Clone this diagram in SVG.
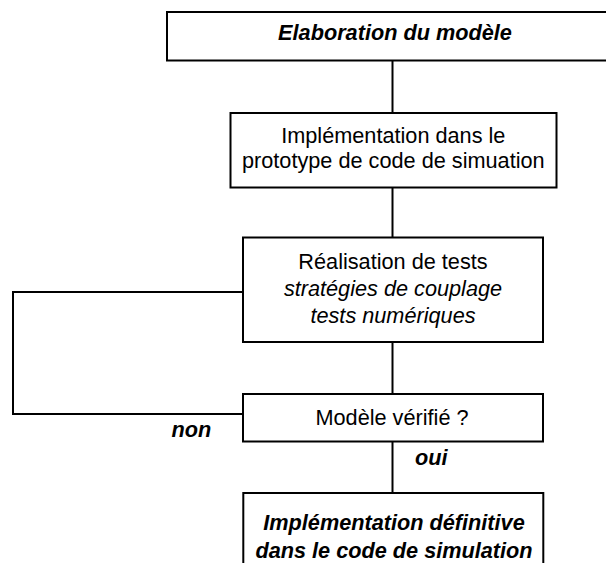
<svg xmlns="http://www.w3.org/2000/svg" width="606" height="563" viewBox="0 0 606 563">
<style>
.box{fill:#fff;stroke:#000;stroke-width:2}
.con{fill:none;stroke:#000;stroke-width:2}
text{font-family:"Liberation Sans",Arial,sans-serif;font-size:21.7px;fill:#000;text-anchor:middle}
.bi{font-weight:bold;font-style:italic}
.it{font-style:italic}
.lbl{text-anchor:start}
</style>
<rect width="606" height="563" fill="#fff"/>
<g id="connectors">
<line class="con" x1="392.5" y1="60" x2="392.5" y2="113"/>
<line class="con" x1="392.5" y1="187" x2="392.5" y2="238"/>
<line class="con" x1="392.5" y1="342" x2="392.5" y2="394"/>
<line class="con" x1="392.5" y1="441" x2="392.5" y2="493"/>
<polyline class="con" points="243,292 13,292 13,414 243,414"/>
<text class="bi lbl" x="171.5" y="437">non</text>
<text class="bi lbl" x="415" y="465">oui</text>
</g>
<g id="n1">
<rect class="box" x="167" y="12" width="460" height="48.5"/>
<text class="bi" x="395" y="40">Elaboration du modèle</text>
</g>
<g id="n2">
<rect class="box" x="230.5" y="113" width="326" height="74.5"/>
<text x="393.3" y="143">Implémentation dans le</text>
<text x="393.3" y="168">prototype de code de simuation</text>
</g>
<g id="n3">
<rect class="box" x="243" y="237.5" width="300" height="104.5"/>
<text x="393" y="269">Réalisation de tests</text>
<text class="it" x="393" y="296">stratégies de couplage</text>
<text class="it" x="393" y="323">tests numériques</text>
</g>
<g id="n4">
<rect class="box" x="243" y="394" width="300" height="47.5"/>
<text x="392" y="425">Modèle vérifié ?</text>
</g>
<g id="n5">
<rect class="box" x="243.3" y="493" width="300" height="90"/>
<text class="bi" x="394" y="530">Implémentation définitive</text>
<text class="bi" x="394" y="558">dans le code de simulation</text>
</g>
</svg>
